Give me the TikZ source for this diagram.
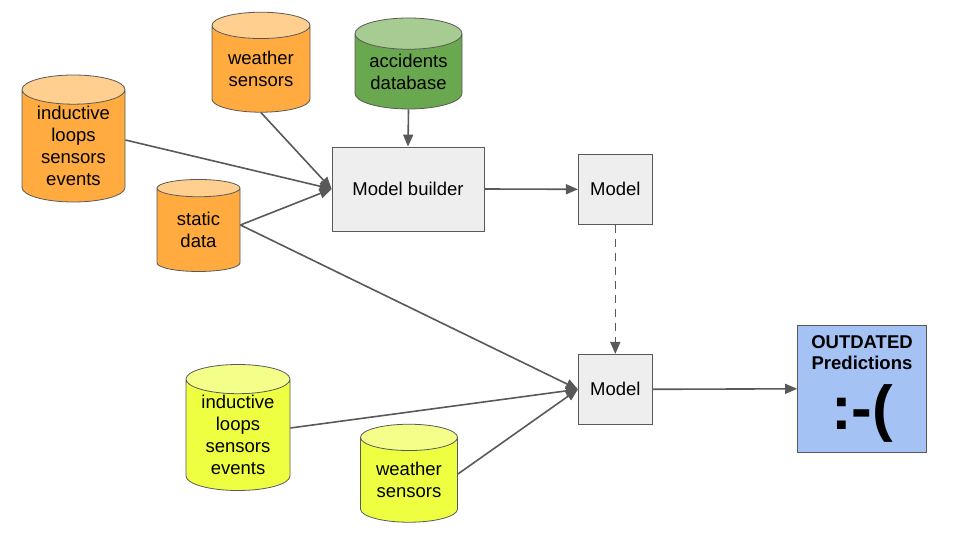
\documentclass[tikz,border=0pt]{standalone}
\usepackage{fontspec}
\setmainfont{Liberation Sans}
\usepackage{tikz}
\usetikzlibrary{shapes.geometric,arrows.meta}

\definecolor{linegray}{HTML}{595959}
\definecolor{boxgray}{HTML}{EEEEEE}
\definecolor{orangebody}{HTML}{FFAB40}
\definecolor{orangetop}{HTML}{FFCF8F}
\definecolor{greenbody}{HTML}{6AA84F}
\definecolor{greentop}{HTML}{A6CC92}
\definecolor{limebody}{HTML}{EEFF41}
\definecolor{limetop}{HTML}{F4FF8A}
\definecolor{predblue}{HTML}{A4C2F4}

\begin{document}
\begin{tikzpicture}[x=1pt,y=-1pt,
  every node/.style={font=\fontsize{18.5}{22}\selectfont, align=center},
  db/.style={cylinder, shape border rotate=90, draw=linegray, line width=0.8pt,
    aspect=0.4, inner sep=0pt, cylinder uses custom fill},
  orangedb/.style={db, cylinder body fill=orangebody, cylinder end fill=orangetop},
  greendb/.style={db, cylinder body fill=greenbody, cylinder end fill=greentop},
  limedb/.style={db, cylinder body fill=limebody, cylinder end fill=limetop},
  box/.style={draw=linegray, fill=boxgray, line width=0.8pt, inner sep=0pt},
  arr/.style={draw=linegray, line width=1.6pt, -{Triangle[length=12pt,width=10pt]}}]
\useasboundingbox (0,0) rectangle (960,540);

% data sources
\node[orangedb, minimum width=103pt, minimum height=127pt] (loopsA) at (73.5,146) {inductive\\loops\\sensors\\events};
\node[orangedb, minimum width=98pt, minimum height=100pt] (weatherA) at (261,69) {weather\\sensors};
\node[greendb, minimum width=107pt, minimum height=91pt] (accidents) at (408.5,71.5) {accidents\\database};
\node[orangedb, minimum width=83pt, minimum height=92pt] (static) at (198.5,230) {static\\data};
\node[limedb, minimum width=104pt, minimum height=126pt] (loopsB) at (238,435) {inductive\\loops\\sensors\\events};
\node[limedb, minimum width=97pt, minimum height=98pt] (weatherB) at (409,480) {weather\\sensors};

% boxes
\node[box, minimum width=152pt, minimum height=84pt] (builder) at (408,189) {Model builder};
\node[box, minimum width=74pt, minimum height=70pt] (modelA) at (615.3,189.3) {Model};
\node[box, minimum width=74pt, minimum height=70pt] (modelB) at (615.3,389.3) {Model};
\node[draw=linegray, fill=predblue, line width=0.8pt, minimum width=129pt, minimum height=127pt] (pred) at (862,388.8)
  {\bfseries OUTDATED\\[-1pt]\bfseries Predictions\\[14pt]{\fontsize{62}{62}\selectfont\bfseries :-(}};

% arrows
\draw[arr] ([yshift=6pt]loopsA.east) -- (builder.west);
\draw[arr] (weatherA.south) -- (builder.west);
\draw[arr] ([yshift=5pt]static.east) -- (builder.west);
\draw[arr] (accidents.south) -- (builder.north);
\draw[arr] (builder.east) -- (modelA.west);
\draw[arr, dash pattern=on 8pt off 6pt] (modelA.south) -- (modelB.north);
\draw[arr] ([yshift=5pt]static.east) -- (modelB.west);
\draw[arr] ([yshift=7pt]loopsB.east) -- (modelB.west);
\draw[arr] ([yshift=6pt]weatherB.east) -- (modelB.west);
\draw[arr] (modelB.east) -- (pred.west);
\end{tikzpicture}
\end{document}
